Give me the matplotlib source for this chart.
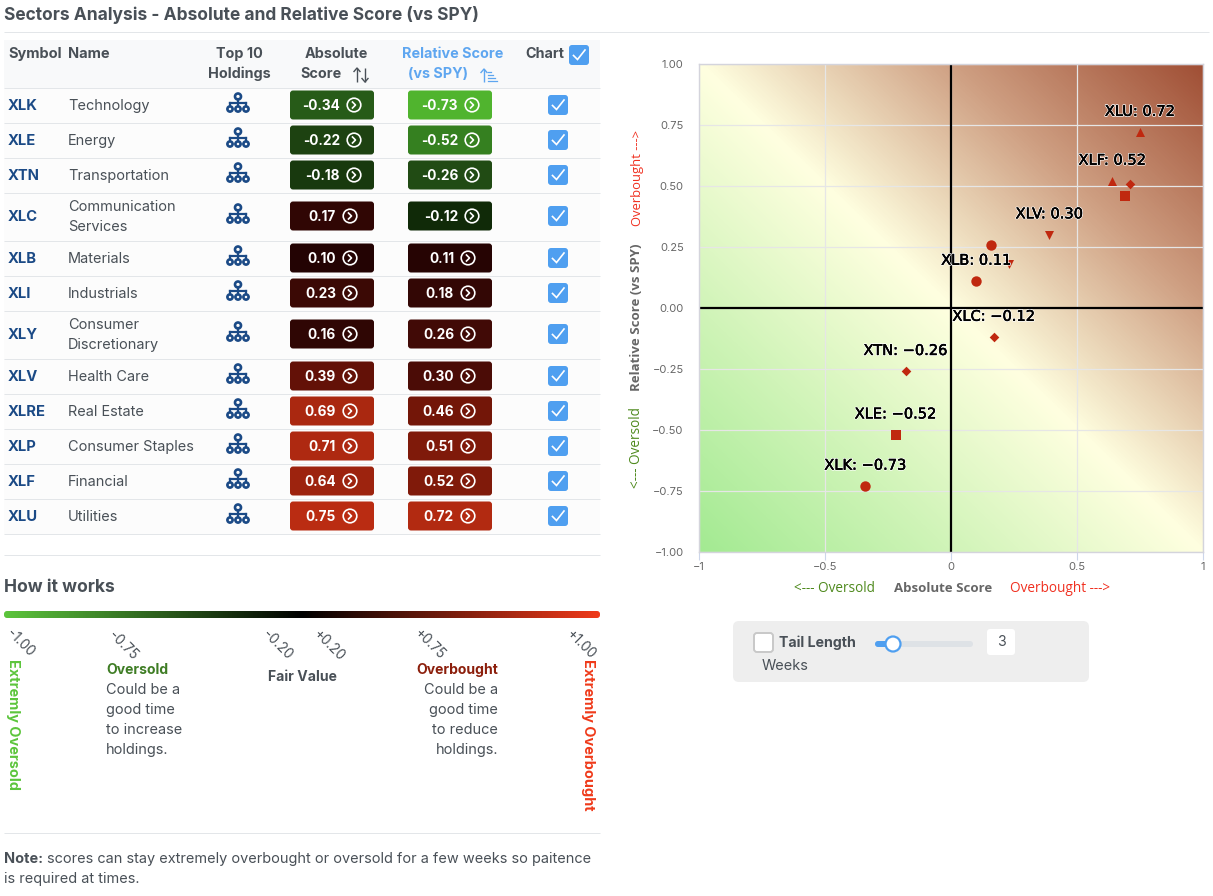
import matplotlib
matplotlib.use("Agg")
import matplotlib.pyplot as plt
import numpy as np
import matplotlib.patheffects as pe
from matplotlib.patches import FancyBboxPatch, Circle, Rectangle
from matplotlib.colors import LinearSegmentedColormap

plt.rcParams['font.family'] = ['Inter', 'DejaVu Sans']

symbols = ["XLK","XLE","XTN","XLC","XLB","XLI","XLY","XLV","XLRE","XLP","XLF","XLU"]
names = ["Technology","Energy","Transportation","Communication\nServices","Materials","Industrials",
         "Consumer\nDiscretionary","Health Care","Real Estate","Consumer Staples","Financial","Utilities"]
absolute = [-0.34,-0.22,-0.18,0.17,0.10,0.23,0.16,0.39,0.69,0.71,0.64,0.75]
relative = [-0.73,-0.52,-0.26,-0.12,0.11,0.18,0.26,0.30,0.46,0.51,0.52,0.72]
markers = ["o","s","D","D","o","v","o","v","s","D","^","^"]
labelled = ["XLK","XLE","XTN","XLC","XLB","XLV","XLF","XLU"]
x_ticks = [-1,-0.5,0,0.5,1]
x_tick_labels = ["\u22121","\u22120.5","0","0.5","1"]
y_ticks = [-1,-0.75,-0.5,-0.25,0,0.25,0.5,0.75,1]

row_y = [105,140,175,216,258,293,334,376,411,446,481,516]
row_lines = [88,123,158,193,241,276,311,359,394,429,464,499,534]

TXT = "#495057"; NAVY = "#1b4a86"; BLUE = "#4f9ff0"; MARK = "#c0280f"; HEAD_BLUE = "#5ea6f0"
PX = 0.72

score_cmap = LinearSegmentedColormap.from_list("score", [
    (0.0,"#5cc53c"),(0.125,"#52b82f"),(0.24,"#358020"),(0.37,"#214a14"),(0.44,"#102a08"),(0.5,"#0a0a02"),
    (0.55,"#240303"),(0.63,"#400a06"),(0.7,"#661207"),(0.76,"#801a0a"),(0.875,"#b82c12"),(1.0,"#ef3a1a")])
bg_cmap = LinearSegmentedColormap.from_list("bg", [
    (0.0,"#a3ea92"),(0.25,"#d0f4b8"),(0.5,"#ffffe0"),(0.75,"#cfa083"),(1.0,"#a04f35")])
bar_cmap = LinearSegmentedColormap.from_list("bar", ["#5cc53c","#000000","#ef3a1a"])

fig = plt.figure(figsize=(12.13,8.96), dpi=100, facecolor="white")
pg = fig.add_axes([0,0,1,1])
pg.set_xlim(0,1213); pg.set_ylim(896,0); pg.axis("off")

def t(x,y,s,size=15,color=TXT,weight="normal",ha="left",va="center",rot=0,**k):
    return pg.text(x,y+(0 if rot else 1),s,fontsize=size*PX,color=color,fontweight=weight,ha=ha,va=va,rotation=rot,
                   rotation_mode="anchor" if rot else "default",**k)
def hline(y,x0=4,x1=600,c="#e3e6e9",lw=1.0):
    pg.plot([x0,x1],[y,y],color=c,lw=lw*PX,solid_capstyle="butt")
def rbox(x0,y0,x1,y1,fc,r=3,ec="none",lw=0,z=2):
    pg.add_patch(FancyBboxPatch((x0,y0),x1-x0,y1-y0,boxstyle=f"round,pad=0,rounding_size={r}",fc=fc,ec=ec,lw=lw,zorder=z))
def checkbox(cx,cy,size=20):
    rbox(cx-size/2,cy-size/2,cx+size/2,cy+size/2,BLUE,r=3)
    pg.plot([cx-5.5,cx-1.5,cx+6],[cy+0.5,cy+4.5,cy-5],color="white",lw=1.2,zorder=3,solid_joinstyle="miter")
def org(cx,cy):
    cy = cy-2.5
    for dx in (-8,0,8):
        pg.add_patch(Circle((cx+dx,cy+6.5),2.6,fc="none",ec=NAVY,lw=1.9,zorder=3))
        pg.plot([cx+dx,cx+dx],[cy+1,cy+4],color=NAVY,lw=1.6,zorder=3)
    pg.add_patch(Circle((cx,cy-6),3,fc="none",ec=NAVY,lw=1.9,zorder=3))
    pg.plot([cx-8,cx+8],[cy+1,cy+1],color=NAVY,lw=1.6,zorder=3)
    pg.plot([cx,cx],[cy-3,cy+1],color=NAVY,lw=1.6,zorder=3)
def arrow(x,y0,y1,c,up=True):
    pg.plot([x,x],[y0,y1],color=c,lw=1.0,zorder=3,solid_capstyle="butt")
    tip = y0 if up else y1
    d = 3.5 if up else -3.5
    pg.plot([x-3,x,x+3],[tip+d,tip,tip+d],color=c,lw=1.0,zorder=3)
def score_cell(center,y,v):
    rbox(center-42,y-14.5,center+42,y+14.5,score_cmap((v+1)/2))
    ix = center+(22 if v<0 else 18)
    t(ix-14,y,f"{v:.2f}",size=13.6,color="white",weight="bold",ha="right",zorder=4)
    pg.add_patch(Circle((ix,y),6.8,fc="none",ec="white",lw=1.2,zorder=4))
    pg.plot([ix-1.5,ix+1.5,ix-1.5],[y-3,y,y+3],color="white",lw=1.2,zorder=4)

# title
t(4,14,"Sectors Analysis - Absolute and Relative Score (vs SPY)",size=17.4,weight="bold")
hline(32,4,1209)

# table header
pg.add_patch(Rectangle((4,40),596,48,fc="#f8f9fa",ec="none",zorder=0))
for y0,y1 in zip(row_lines[:-1],row_lines[1:]):
    pg.add_patch(Rectangle((4,y0),596,y1-y0,fc="#fcfcfc",ec="none",zorder=0))
t(8,53,"Symbol",size=14.6,weight="bold")
t(68,53,"Name",size=14.6,weight="bold")
t(239,53,"Top 10",size=14.4,weight="bold",ha="center")
t(239,73,"Holdings",size=14.4,weight="bold",ha="center")
t(336,53,"Absolute",size=14.4,weight="bold",ha="center")
t(321,73,"Score",size=14.4,weight="bold",ha="center")
arrow(357,68,82,TXT,True); arrow(365,68,82,TXT,False)
t(453,53,"Relative Score",size=14.4,color=HEAD_BLUE,weight="bold",ha="center")
t(438,73,"(vs SPY)",size=14.4,color=HEAD_BLUE,weight="bold",ha="center")
arrow(484,69,82,HEAD_BLUE,True)
for yy_,x1_ in zip([72,75,78,81],[491,493,495,497]):
    pg.plot([488,x1_],[yy_,yy_],color=HEAD_BLUE,lw=0.9,zorder=3)
t(545,53,"Chart",size=14.4,weight="bold",ha="center")
checkbox(579,55)

for y in row_lines:
    hline(y)
for i,s in enumerate(symbols):
    y = row_y[i]
    t(8,y,s,size=14.8,color=NAVY,weight="bold")
    if "\n" in names[i]:
        a,b = names[i].split("\n")
        t(68,y-10,a,size=14.5); t(68,y+10,b,size=14.5)
    else:
        t(68,y,names[i],size=14.5)
    org(238,y)
    score_cell(332,y,absolute[i])
    score_cell(450,y,relative[i])
    checkbox(558,y)

hline(555)
# how it works
t(4,587,"How it works",size=17.5,weight="bold")
grad = np.linspace(0,1,512)[None,:]
im = pg.imshow(grad,cmap=bar_cmap,extent=[4,600,618,611],aspect="auto",zorder=2)
clip = FancyBboxPatch((4,611),596,7,boxstyle="round,pad=0,rounding_size=3",fc="none",ec="none",transform=pg.transData)
pg.add_patch(clip); im.set_clip_path(clip)
pg.set_xlim(0,1213); pg.set_ylim(896,0)

for cx,cy,s in [(20,643,"-1.00"),(123,645,"-0.75"),(277,645,"-0.20"),(329,646,"+0.20"),(430,644,"+0.75"),(581,645,"+1.00")]:
    t(cx,cy,s,size=13.6,ha="center",rot=-45)
t(13,659,"Extremly Oversold",size=14.5,color="#5cc53c",weight="bold",ha="left",rot=-90)
t(588,659,"Extremly Overbought",size=14.5,color="#ef3a1a",weight="bold",ha="left",rot=-90)
t(106,669,"Oversold",size=14,color="#3f7d25",weight="bold")
for y,s in zip([689,709,729,749],["Could be a","good time","to increase","holdings."]):
    t(106,y,s,size=14.5)
t(302,676,"Fair Value",size=14,weight="bold",ha="center")
t(498,669,"Overbought",size=14,color="#8c1f0c",weight="bold",ha="right")
for y,s in zip([689,709,729,749],["Could be a","good time","to reduce","holdings."]):
    t(498,y,s,size=14.5,ha="right")
hline(833)
t(4,858,"Note:",size=14.5,weight="bold")
t(47,858,"scores can stay extremely overbought or oversold for a few weeks so paitence",size=14.5)
t(4,878,"is required at times.",size=14.5)

# tail length panel
rbox(733,621,1089,682,"#eeeeee",r=6,z=1)
rbox(754,633,773,652,"white",r=3,ec="#c8c8c8",lw=1.4)
t(779,642,"Tail Length",size=14.2,weight="bold")
t(762,665,"Weeks",size=14.5)
rbox(875,641,973,647,"#dee2e6",r=3)
rbox(875,641,893,647,BLUE,r=3,z=3)
pg.add_patch(Circle((893,644),7.5,fc="white",ec=BLUE,lw=1.6,zorder=4))
rbox(987,629,1015,655,"white",r=3)
t(1001,641,"3",size=14,ha="center")

# axis side labels
SIDE = "Open Sans"
t(834,588,"<--- Oversold",size=13.6,color="#4f8a1e",ha="center",family=SIDE)
t(943,588,"Absolute Score",size=13.2,weight="bold",color="#666666",ha="center",family=SIDE)
t(1060,588,"Overbought --->",size=13.6,color="#f03020",ha="center",family=SIDE)
t(637,178,"Overbought --->",size=13,color="#f03020",ha="center",rot=90,family=SIDE)
t(637,317,"Relative Score (vs SPY)",size=13.2,weight="bold",color="#666666",ha="center",rot=90,family=SIDE)
t(637,447,"<--- Oversold",size=13.6,color="#4f8a1e",ha="center",rot=90,family=SIDE)

# scatter chart
ax = fig.add_axes([699/1213,1-552/896,504/1213,488/896],zorder=5)
xx,yy = np.meshgrid(np.linspace(-1,1,400),np.linspace(-1,1,400))
ax.imshow((xx+yy)/2,extent=[-1,1,-1,1],origin="lower",cmap=bg_cmap,vmin=-1,vmax=1,aspect="auto",zorder=0)
ax.set_xlim(-1,1); ax.set_ylim(-1,1)
ax.set_xticks(x_ticks); ax.set_xticklabels(x_tick_labels)
ax.set_yticks(y_ticks); ax.set_yticklabels([f"{v:.2f}".replace("-","\u2212") for v in y_ticks])
ax.set_axisbelow(True)
ax.grid(True,color="#e6e6e6",lw=0.9)
ax.tick_params(axis="x",length=6,width=0.8,color="#ccd6eb",labelsize=8,labelcolor="#666666",pad=1)
ax.tick_params(axis="y",length=0,labelsize=8,labelcolor="#666666",pad=11)
for sp in ax.spines.values():
    sp.set_color("#d4d4dc"); sp.set_linewidth(1)
ax.axhline(0,color="black",lw=1.6,zorder=2)
ax.axvline(0,color="black",lw=1.6,zorder=2)
for i,s in enumerate(symbols):
    size = {"o":56,"s":46,"D":24,"v":42,"^":42}[markers[i]]
    ax.scatter(absolute[i],relative[i],marker=markers[i],s=size,color=MARK,lw=0,zorder=3)
    if s in labelled:
        ax.annotate(f"{s}: {relative[i]:.2f}".replace("-","\u2212"),(absolute[i],relative[i]),
                    xytext=(0,21*PX),textcoords="offset points",ha="center",va="center",
                    fontsize=14.6*PX,color="black",family="DejaVu Sans",zorder=4,
                    path_effects=[pe.withStroke(linewidth=1.4,foreground="white"),
                                  pe.withStroke(linewidth=0.35,foreground="black")])
fig.savefig("out.png",dpi=100)
